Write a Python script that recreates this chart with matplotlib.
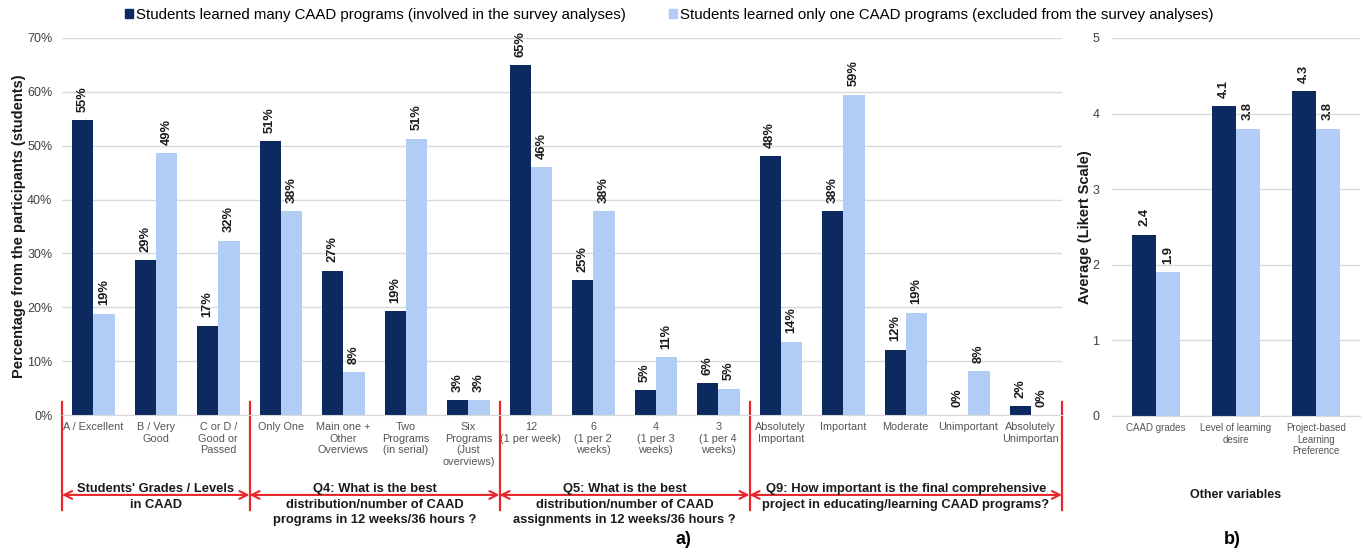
#!/usr/bin/env python3
"""CAAD survey: comparison of the two student groups (panels a and b)."""

import matplotlib

matplotlib.use("Agg")
import matplotlib.pyplot as plt
import numpy as np
from matplotlib.patches import Patch

plt.rcParams["font.family"] = ["Liberation Sans", "DejaVu Sans"]

DARK = "#0c2a5f"
LIGHT = "#b2cdf5"
RED = "#e8262b"
GRID = "#d9d9d9"
TICK_COLOR = "#404040"

SERIES_NAMES = [
    "Students learned many CAAD programs (involved in the survey analyses)",
    "Students learned only one CAAD programs (excluded from the survey analyses)",
]

# panel a) percentages
categories = [
    "A / Excellent", "B / Very\nGood", "C or D /\nGood or\nPassed",
    "Only One", "Main one +\nOther\nOverviews", "Two\nPrograms\n(in serial)",
    "Six\nPrograms\n(Just\noverviews)",
    "12\n(1 per week)", "6\n(1 per 2\nweeks)", "4\n(1 per 3\nweeks)", "3\n(1 per 4\nweeks)",
    "Absolutely\nImportant", "Important", "Moderate", "Unimportant", "Absolutely\nUnimportan",
]
many_pct = [54.7, 28.7, 16.6, 50.9, 26.8, 19.3, 2.7, 64.9, 25.0, 4.6, 5.9,
            48.0, 37.9, 12.1, 0.0, 1.7]
one_pct = [18.8, 48.6, 32.4, 37.8, 8.0, 51.3, 2.7, 46.0, 37.8, 10.7, 4.9,
           13.6, 59.5, 19.0, 8.2, 0.0]
many_lbl = ["55%", "29%", "17%", "51%", "27%", "19%", "3%", "65%", "25%", "5%", "6%",
            "48%", "38%", "12%", "0%", "2%"]
one_lbl = ["19%", "49%", "32%", "38%", "8%", "51%", "3%", "46%", "38%", "11%", "5%",
           "14%", "59%", "19%", "8%", "0%"]

group_sizes = [3, 4, 4, 5]
group_titles = [
    "Students' Grades / Levels\nin CAAD",
    "Q4: What is the best\ndistribution/number of CAAD\nprograms in 12 weeks/36 hours ?",
    "Q5: What is the best\ndistribution/number of CAAD\nassignments in 12 weeks/36 hours ?",
    "Q9: How important is the final comprehensive\nproject in educating/learning CAAD programs?",
]

# panel b) Likert averages
other_vars = ["CAAD grades", "Level of learning\ndesire", "Project-based\nLearning\nPreference"]
many_avg = [2.4, 4.1, 4.3]
one_avg = [1.9, 3.8, 3.8]


def style_axis(ax, xsize, ypad):
    for side in ("left", "right", "top"):
        ax.spines[side].set_visible(False)
    ax.spines["bottom"].set_color(GRID)
    ax.grid(axis="y", color=GRID, linewidth=1)
    ax.set_axisbelow(True)
    ax.tick_params(axis="both", length=0, colors=TICK_COLOR)
    ax.tick_params(axis="y", labelsize=9, pad=ypad)
    ax.tick_params(axis="x", labelsize=xsize, pad=5, labelcolor="#555555")


def label_bars(ax, xs, heights, texts):
    for x, h, t in zip(xs, heights, texts):
        ax.annotate(t, (x, h), xytext=(0, 6), textcoords="offset points",
                    rotation=90, ha="center", va="bottom",
                    fontsize=9.3, fontweight="bold", color="#1a1a1a")


fig = plt.figure(figsize=(13.63, 5.52), dpi=100)
ax = fig.add_axes([62 / 1363, 1 - 415 / 552, 1000 / 1363, 377 / 552])
axb = fig.add_axes([1112 / 1363, 1 - 416 / 552, 248 / 1363, 378 / 552])

# ---- panel a
width = 0.34
x = np.arange(len(categories)) + 0.5
ax.bar(x - width / 2, many_pct, width, color=DARK)
ax.bar(x + width / 2, one_pct, width, color=LIGHT)
label_bars(ax, x - width / 2, many_pct, many_lbl)
label_bars(ax, x + width / 2, one_pct, one_lbl)
ax.set_xlim(0, len(categories))
ax.set_ylim(0, 70)
ax.set_yticks(np.arange(0, 71, 10))
ax.set_yticklabels([f"{v}%" for v in range(0, 71, 10)])
ax.set_xticks(x)
ax.set_xticklabels(categories, linespacing=1.2)
style_axis(ax, 7.8, 7)
ax.set_ylabel("Percentage from the participants (students)", fontsize=10.5,
              fontweight="bold", color="#1a1a1a", labelpad=1)

edges = np.concatenate([[0], np.cumsum(group_sizes)])
trans = ax.get_xaxis_transform()
for e in edges:
    ax.plot([e, e], [0.034, -0.252], color=RED, linewidth=1.6,
            transform=trans, clip_on=False)
for lo, hi, title in zip(edges[:-1], edges[1:], group_titles):
    ax.annotate("", xy=(lo, -0.212), xytext=(hi, -0.212), xycoords=trans,
                textcoords=trans,
                arrowprops=dict(arrowstyle="<->", color=RED, lw=1.5,
                                mutation_scale=14, shrinkA=0, shrinkB=0))
    ax.text((lo + hi) / 2, -0.181, title, transform=trans, ha="center", va="top",
            fontsize=9.3, fontweight="bold", color="#1a1a1a", linespacing=1.4)

# ---- panel b
wb = 0.3
xb = np.arange(len(other_vars))
axb.bar(xb - wb / 2, many_avg, wb, color=DARK)
axb.bar(xb + wb / 2, one_avg, wb, color=LIGHT)
label_bars(axb, xb - wb / 2, many_avg, [f"{v:.1f}" for v in many_avg])
label_bars(axb, xb + wb / 2, one_avg, [f"{v:.1f}" for v in one_avg])
axb.set_xlim(-0.55, len(other_vars) - 0.45)
axb.set_ylim(0, 5)
axb.set_yticks(range(0, 6))
axb.set_xticks(xb)
axb.set_xticklabels(other_vars, linespacing=1.2)
style_axis(axb, 7, 9)
axb.set_ylabel("Average (Likert Scale)", fontsize=10.5, fontweight="bold",
               color="#1a1a1a", labelpad=0)
axb.set_xlabel("Other variables", fontsize=9, fontweight="bold",
               color="#1a1a1a", labelpad=24)

# legend and panel letters
handles = [Patch(color=DARK), Patch(color=LIGHT)]
fig.legend(handles, SERIES_NAMES, loc="upper center", bbox_to_anchor=(0.491, 1.01),
           ncol=2, frameon=False, fontsize=10.8, handlelength=0.5, handleheight=0.5,
           handletextpad=0.2, columnspacing=2.9)
fig.text(683 / 1363, 1 - 540 / 552, "a)", ha="center", va="center",
         fontsize=13, fontweight="bold")
fig.text(1232 / 1363, 1 - 540 / 552, "b)", ha="center", va="center",
         fontsize=13, fontweight="bold")

fig.savefig("out.png", dpi=100)
